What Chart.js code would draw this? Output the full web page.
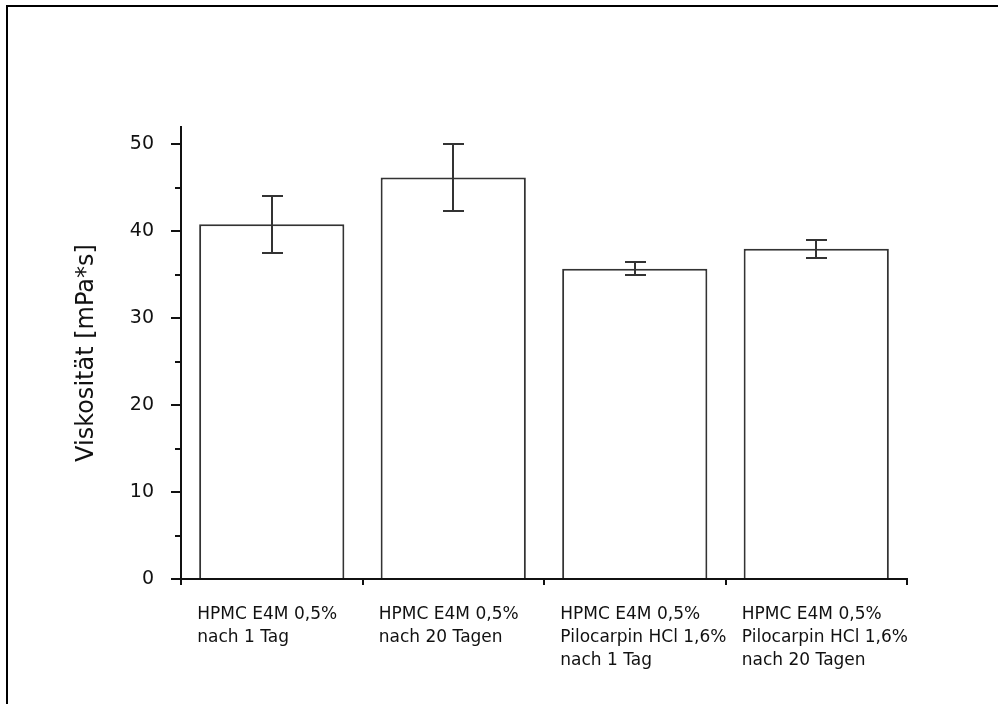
<!DOCTYPE html>
<html>
<head>
<meta charset="utf-8">
<script src="https://cdn.jsdelivr.net/npm/chart.js@4"></script>
<style>
  html, body { margin: 0; padding: 0; background: #fff; }
  #wrap { position: relative; width: 998px; height: 704px; overflow: hidden; }
  #frame { position: absolute; left: 6px; top: 5px; right: -10px; bottom: -10px;
           border-top: 2px solid #000; border-left: 2px solid #000; }
  #c { position: absolute; left: 0; top: 0; }
</style>
</head>
<body>
<div id="wrap">
  <div id="frame"></div>
  <canvas id="c" width="998" height="704"></canvas>
</div>
<script>
// Daten
const categories = [
  ['HPMC E4M 0,5%', 'nach 1 Tag'],
  ['HPMC E4M 0,5%', 'nach 20 Tagen'],
  ['HPMC E4M 0,5%', 'Pilocarpin HCl 1,6%', 'nach 1 Tag'],
  ['HPMC E4M 0,5%', 'Pilocarpin HCl 1,6%', 'nach 20 Tagen']
];
const viscosity = [40.8, 46.2, 35.7, 38.0];
const viscosityErr = [3.3, 3.9, 0.75, 1.05];
const yTicks = [0, 10, 20, 30, 40, 50];
const yMinorTicks = [5, 15, 25, 35, 45];

const FONT = 'DejaVu Sans';
const INK = '#111';

// Fehlerbalken + kleine Striche an der y-Achse
const extras = {
  id: 'extras',
  afterDatasetsDraw(chart) {
    const ctx = chart.ctx;
    const x = chart.scales.x, y = chart.scales.y;
    ctx.save();
    ctx.strokeStyle = '#333';
    ctx.lineWidth = 2;
    viscosity.forEach((v, i) => {
      const px = Math.round(x.getPixelForValue(i));
      const top = Math.round(y.getPixelForValue(v + viscosityErr[i]));
      const bot = Math.round(y.getPixelForValue(v - viscosityErr[i]));
      ctx.beginPath();
      ctx.moveTo(px, top); ctx.lineTo(px, bot);
      ctx.moveTo(px - 10, top); ctx.lineTo(px + 11, top);
      ctx.moveTo(px - 10, bot); ctx.lineTo(px + 11, bot);
      ctx.stroke();
    });
    ctx.restore();
  },
  afterDraw(chart) {
    const ctx = chart.ctx;
    const y = chart.scales.y;
    const left = chart.chartArea.left;
    ctx.save();
    ctx.strokeStyle = INK;
    ctx.lineWidth = 2;
    yMinorTicks.forEach(v => {
      const py = Math.round(y.getPixelForValue(v));
      ctx.beginPath();
      ctx.moveTo(left - 6, py); ctx.lineTo(left, py);
      ctx.stroke();
    });
    ctx.restore();
  }
};

const LABEL_SHIFT = -0.41; // Beschriftung linksbündig am Balkenanfang

new Chart(document.getElementById('c').getContext('2d'), {
  type: 'bar',
  data: {
    labels: categories,
    datasets: [{
      data: viscosity,
      backgroundColor: '#fff',
      borderColor: '#333',
      borderWidth: 2,
      barPercentage: 0.8,
      categoryPercentage: 1.0
    }]
  },
  options: {
    responsive: false,
    animation: false,
    events: [],
    layout: { padding: { left: 62, right: 91, top: 127, bottom: 29 } },
    plugins: { legend: { display: false }, tooltip: { enabled: false } },
    scales: {
      x: {
        type: 'category',
        offset: true,
        grid: { offset: true, drawOnChartArea: false, drawTicks: true, tickLength: 6, color: INK, lineWidth: 2 },
        border: { display: true, color: INK, width: 2 },
        ticks: { display: false },
        afterFit(s) { s.height = 6; }
      },
      xl: {
        type: 'linear',
        position: 'bottom',
        offset: false,
        min: -0.5,
        max: categories.length - 0.5,
        grid: { display: false, drawTicks: false, offset: false },
        border: { display: false },
        afterBuildTicks(s) { s.ticks = categories.map((c, i) => ({ value: i + LABEL_SHIFT })); },
        ticks: {
          autoSkip: false, maxRotation: 0, minRotation: 0,
          align: 'start', padding: 18,
          color: INK,
          font: { family: FONT, size: 17, lineHeight: 1.36 },
          callback: (v, i) => categories[i]
        },
        afterFit(s) { s.height = 90; }
      },
      y: {
        type: 'linear',
        min: 0,
        max: 52,
        grid: { drawOnChartArea: false, drawTicks: true, tickLength: 10, color: INK, lineWidth: 2 },
        border: { display: true, color: INK, width: 2 },
        afterBuildTicks(s) { s.ticks = yTicks.map(v => ({ value: v })); },
        ticks: {
          padding: 17,
          color: INK,
          font: { family: FONT, size: 19 }
        },
        title: {
          display: true,
          text: 'Viskosität [mPa*s]',
          color: INK,
          font: { family: FONT, size: 24 },
          padding: { top: 10, bottom: 0 }
        },
        afterFit(s) { s.width = 181 - 62; }
      }
    }
  },
  plugins: [extras]
});
</script>
</body>
</html>
